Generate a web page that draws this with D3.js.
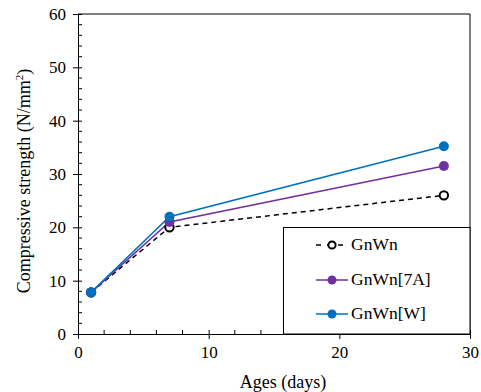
<!DOCTYPE html>
<html>
<head>
<meta charset="utf-8">
<script src="https://cdn.jsdelivr.net/npm/d3@7"></script>
<style>
  body { margin: 0; background: #fff; }
  svg text { font-family: "Liberation Serif", serif; fill: #000; }
</style>
</head>
<body>
<div id="chart"></div>
<script>
var width = 481, height = 392;
var margin = {left: 78, top: 14, right: 11, bottom: 58};

var ages = [1, 7, 28];
var gnwn = [7.8, 20, 26];
var gnwn7a = [7.8, 21, 31.5];
var gnwnW = [7.8, 22, 35.2];
var seriesNames = ["GnWn", "GnWn[7A]", "GnWn[W]"];
var xTicks = [0, 10, 20, 30];
var yTicks = [0, 10, 20, 30, 40, 50, 60];

var series = [
  {name: seriesNames[0], values: gnwn, color: "#000", dash: "5,4", open: true},
  {name: seriesNames[1], values: gnwn7a, color: "#7030a0", dash: null, open: false},
  {name: seriesNames[2], values: gnwnW, color: "#0070c0", dash: null, open: false}
];

var svg = d3.select("#chart").append("svg")
  .attr("width", width).attr("height", height);

var x = d3.scaleLinear().domain([0, 30]).range([margin.left, width - margin.right]);
var y = d3.scaleLinear().domain([0, 60]).range([height - margin.bottom, margin.top]);

// frame (top + right)
svg.append("path")
  .attr("d", "M" + x(0) + "," + y(60) + "H" + x(30) + "V" + y(0))
  .attr("fill", "none").attr("stroke", "#000").attr("stroke-width", 1);

// minor ticks (inside)
var minorX = d3.range(0, 31, 2).filter(d => d % 10 != 0);
var minorY = d3.range(0, 61, 2).filter(d => d % 10 != 0);
svg.append("g").selectAll("line").data(minorX).enter().append("line")
  .attr("x1", d => x(d)).attr("x2", d => x(d))
  .attr("y1", y(0)).attr("y2", y(0) - 4)
  .attr("stroke", "#000");
svg.append("g").selectAll("line").data(minorY).enter().append("line")
  .attr("x1", x(0)).attr("x2", x(0) + 4)
  .attr("y1", d => y(d)).attr("y2", d => y(d))
  .attr("stroke", "#000");

var xAxis = svg.append("g")
  .attr("transform", "translate(0," + y(0) + ")")
  .call(d3.axisBottom(x).tickValues(xTicks).tickSize(5).tickSizeOuter(0).tickPadding(7))
  .attr("font-family", "Liberation Serif").attr("font-size", 17);
xAxis.selectAll(".tick line").attr("y1", -4);

var yAxis = svg.append("g")
  .attr("transform", "translate(" + x(0) + ",0)")
  .call(d3.axisLeft(y).tickValues(yTicks).tickSize(5).tickSizeOuter(0).tickPadding(7))
  .attr("font-family", "Liberation Serif").attr("font-size", 17);
yAxis.selectAll(".tick line").attr("x1", 4);

// axis titles
svg.append("text")
  .attr("x", 283).attr("y", 388)
  .attr("text-anchor", "middle").style("font-size", "18px")
  .text("Ages (days)");

var yt = svg.append("text")
  .attr("transform", "translate(30," + 181 + ") rotate(-90)")
  .attr("text-anchor", "middle").style("font-size", "18px");
yt.append("tspan").text("Compressive strength (N/mm");
yt.append("tspan").attr("dy", -7).style("font-size", "11px").text("2");
yt.append("tspan").attr("dy", 7).text(")");

// lines
var line = d3.line().x((d, i) => x(ages[i])).y(d => y(d));
series.forEach(s => {
  svg.append("path")
    .datum(s.values)
    .attr("d", line)
    .attr("fill", "none")
    .attr("stroke", s.color)
    .attr("stroke-width", 1.5)
    .attr("stroke-dasharray", s.dash);
});
series.forEach(s => {
  svg.append("g").selectAll("circle").data(s.values).enter().append("circle")
    .attr("cx", (d, i) => x(ages[i])).attr("cy", d => y(d))
    .attr("r", s.open ? 4.2 : 5)
    .attr("fill", s.open ? "#fff" : s.color)
    .attr("stroke", s.open ? "#000" : "none")
    .attr("stroke-width", 2);
});

// legend
var lg = svg.append("g");
lg.append("rect")
  .attr("x", 283.5).attr("y", 227.5)
  .attr("width", x(30) - 283.5).attr("height", y(0) - 227.5)
  .attr("fill", "#fff").attr("stroke", "#000").attr("stroke-width", 1);
var rows = [245, 280, 314];
series.forEach((s, i) => {
  var ly = rows[i];
  lg.append("line")
    .attr("x1", 316).attr("x2", 348).attr("y1", ly).attr("y2", ly)
    .attr("stroke", s.color).attr("stroke-width", 1.5)
    .attr("stroke-dasharray", s.open ? "5,6" : null);
  lg.append("circle")
    .attr("cx", 332).attr("cy", ly)
    .attr("r", s.open ? 3.6 : 4.5)
    .attr("fill", s.open ? "#fff" : s.color)
    .attr("stroke", s.open ? "#000" : "none")
    .attr("stroke-width", 2);
  lg.append("text")
    .attr("x", 351).attr("y", ly + 5)
    .style("font-size", "17.5px")
    .text(s.name);
});
</script>
</body>
</html>
